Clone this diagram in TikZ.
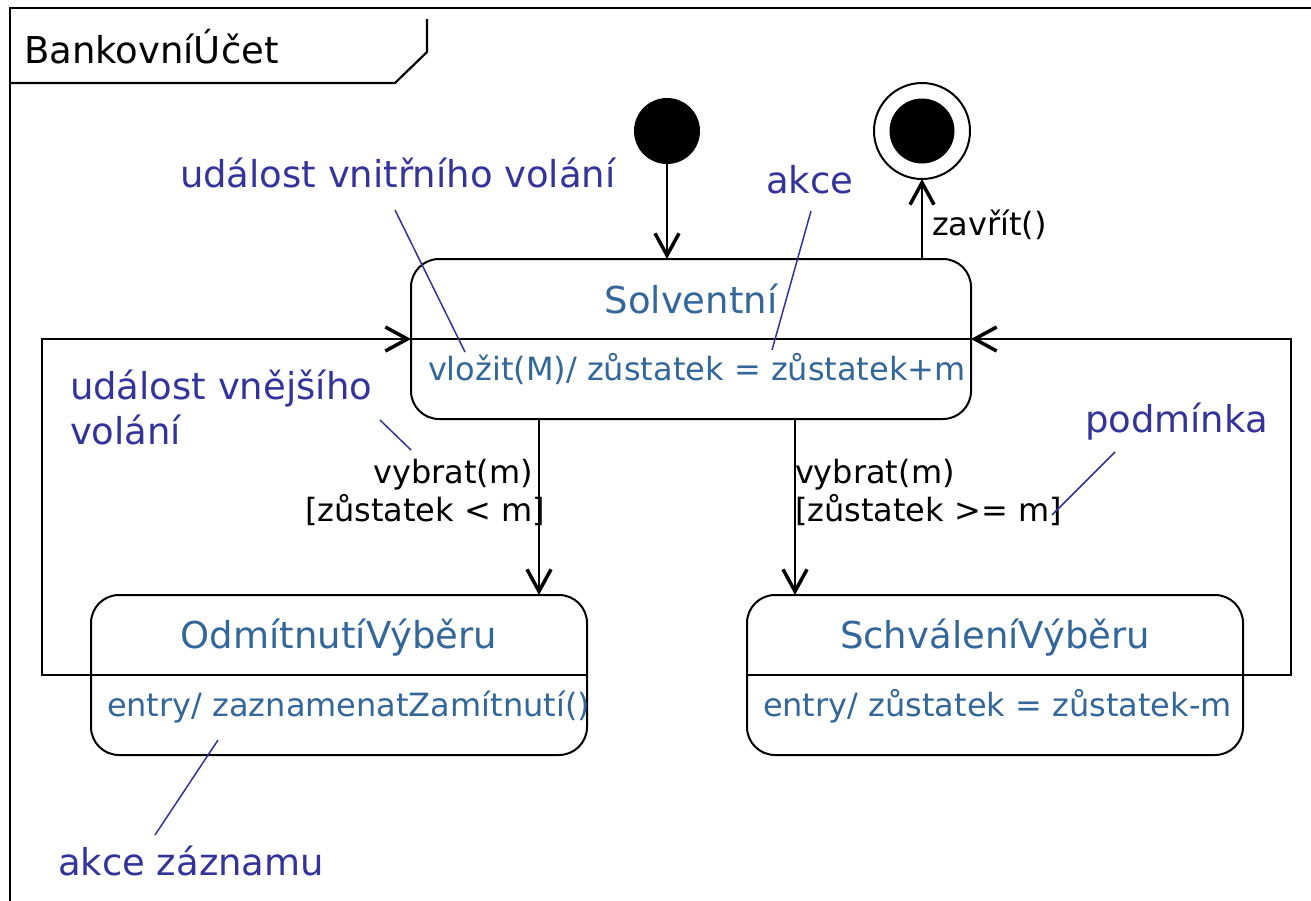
\documentclass[tikz,border=0pt]{standalone}
\usepackage{fontspec}
\setmainfont{DejaVu Sans}
\usetikzlibrary{arrows.meta,calc}
\definecolor{stext}{HTML}{336699}
\definecolor{anno}{HTML}{333399}
\newcommand\fsL{\fontsize{37}{45}\selectfont}
\newcommand\fsS{\fontsize{32}{38}\selectfont}
\tikzset{
  every node/.style={inner sep=0pt, outer sep=0pt},
  state/.style={draw, line width=2pt, rounded corners=28pt, minimum width=#1, minimum height=160pt},
  sname/.style={font=\fsL, text=stext, anchor=base},
  scomp/.style={font=\fsS, text=stext, anchor=base west},
  tlabel/.style={font=\fsS, text=black},
  annot/.style={font=\fsL, text=anno, anchor=base west, align=left},
  aline/.style={draw=anno, line width=1.5pt},
  barb/.style={-{Straight Barb[length=22pt,width=24pt,line width=3.5pt]}},
  trans/.style={line width=2.2pt, barb},
  plain/.style={line width=2.2pt},
}
\begin{document}
\begin{tikzpicture}[x=1pt,y=-1pt]
\useasboundingbox (0,0) rectangle (1311,900);
% frame
\draw[line width=2.2pt] (10,902) -- (10,8) -- (1313,8);
\draw[line width=2.2pt] (10,83) -- (395,83) -- (427,52) -- (427,19);
\node[font=\fsL, anchor=base west] (fname) at (24,63) {BankovníÚčet};

% states
\node[state=560pt] (sol) at (691,339) {};
\draw[plain] (sol.west) -- (sol.east);
\node[sname] (solN) at (691,313) {Solventní};
\node[scomp] (solC) at (428,380) {vložit(M)/ zůstatek = zůstatek+m};

\node[state=496pt] (odm) at (339,675) {};
\draw[plain] (odm.west) -- (odm.east);
\node[sname] (odmN) at (339,648) {OdmítnutíVýběru};
\node[scomp] (odmC) at (107,716) {entry/ zaznamenatZamítnutí()};

\node[state=496pt] (sch) at (995,675) {};
\draw[plain] (sch.west) -- (sch.east);
\node[sname] (schN) at (995,648) {SchváleníVýběru};
\node[scomp] (schC) at (763,716) {entry/ zůstatek = zůstatek-m};

% pseudo states
\node[circle, fill=black, minimum size=66pt] (init) at (667,131) {};
\node[circle, draw, line width=2pt, minimum size=96pt] (fin) at (922,131) {};
\fill (fin.center) circle[radius=32.5pt];

% transitions
\draw[trans] (init) -- (init |- sol.north);
\draw[trans] (sol.north -| fin) -- (fin);
\node[tlabel, anchor=base west] (lclose) at (932,235) {zavřít()};

\draw[trans] (sol.south -| 539,0) -- (odm.north -| 539,0);
\node[tlabel, anchor=base east, align=right] (lrej) at (545,521) {vybrat(m)\kern12pt\\{}[zůstatek < m]};

\draw[trans] (sol.south -| 795,0) -- (sch.north -| 795,0);
\node[tlabel, anchor=base west, align=left] (lok) at (795,521) {vybrat(m)\\{}[zůstatek >= m]};

\draw[trans] (odm.west) -- ++(-49,0) |- (sol.west);
\draw[trans] (sch.east) -- ++(48,0) |- (sol.east);

% annotations
\node[annot] (a1) at (180,187) {událost vnitřního volání};
\coordinate (a1s) at (395,210);
\coordinate (a1e) at (465,352);
\draw[aline] (a1s) -- (a1e);

\node[annot] (a2) at (766,193) {akce};
\coordinate (a2s) at (811,211);
\coordinate (a2e) at (772,350);
\draw[aline] (a2s) -- (a2e);

\node[annot] (a3) at (70,444) {událost vnějšího\\volání};
\coordinate (a3s) at (380,420);
\coordinate (a3e) at (411,450);
\draw[aline] (a3s) -- (a3e);

\node[annot] (a4) at (1085,432) {podmínka};
\coordinate (a4s) at (1115,452);
\coordinate (a4e) at (1052,515);
\draw[aline] (a4s) -- (a4e);

\node[annot] (a5) at (58,875) {akce záznamu};
\coordinate (a5s) at (155,835);
\coordinate (a5e) at (218,740);
\draw[aline] (a5s) -- (a5e);
\end{tikzpicture}
\end{document}
